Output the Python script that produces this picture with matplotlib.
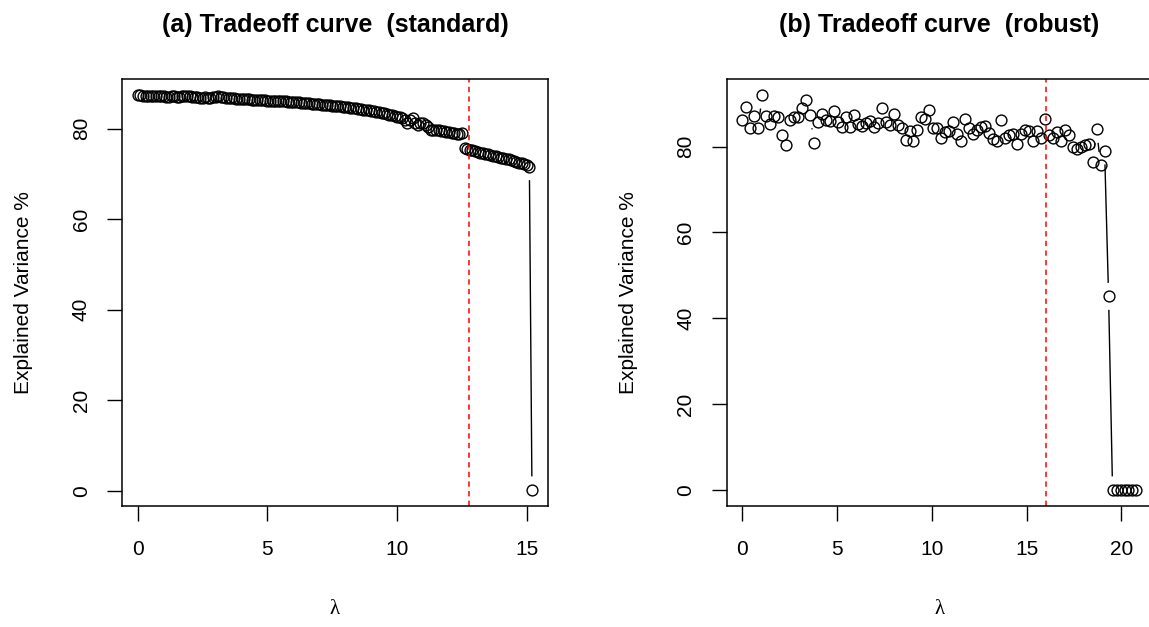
import numpy as np
import matplotlib
matplotlib.use("Agg")
import matplotlib.pyplot as plt
from matplotlib.collections import LineCollection

OUT_FILE = "out.png"

# Curva (a) - padrao
lambda_std = [0.0, 0.1, 0.2, 0.3, 0.4, 0.5, 0.6, 0.7, 0.8, 0.9, 1.0,
              1.1, 1.2, 1.3, 1.4, 1.5, 1.6, 1.7, 1.8, 1.9, 2.0,
              2.1, 2.2, 2.3, 2.4, 2.5, 2.6, 2.7, 2.8, 2.9, 3.0,
              3.1, 3.2, 3.3, 3.4, 3.5, 3.6, 3.7, 3.8, 3.9, 4.0,
              4.1, 4.2, 4.3, 4.4, 4.5, 4.6, 4.7, 4.8, 4.9, 5.0,
              5.1, 5.2, 5.3, 5.4, 5.5, 5.6, 5.7, 5.8, 5.9, 6.0,
              6.1, 6.2, 6.3, 6.4, 6.5, 6.6, 6.7, 6.8, 6.9, 7.0,
              7.1, 7.2, 7.3, 7.4, 7.5, 7.6, 7.7, 7.8, 7.9, 8.0,
              8.1, 8.2, 8.3, 8.4, 8.5, 8.6, 8.7, 8.8, 8.9, 9.0,
              9.1, 9.2, 9.3, 9.4, 9.5, 9.6, 9.7, 9.8, 9.9, 10.0,
              10.1, 10.2, 10.3, 10.4, 10.5, 10.6, 10.7, 10.8, 10.9, 11.0,
              11.1, 11.2, 11.3, 11.4, 11.5, 11.6, 11.7, 11.8, 11.9, 12.0,
              12.1, 12.2, 12.3, 12.4, 12.5, 12.6, 12.7, 12.8, 12.9, 13.0,
              13.1, 13.2, 13.3, 13.4, 13.5, 13.6, 13.7, 13.8, 13.9, 14.0,
              14.1, 14.2, 14.3, 14.4, 14.5, 14.6, 14.7, 14.8, 14.9, 15.0,
              15.1, 15.2]
var_std = [87.4, 87.4, 87.3, 87.3, 87.3, 87.2, 87.2, 87.2, 87.1, 87.1, 87.1,
           87.0, 87.0, 87.1, 87.2, 87.0, 87.0, 87.1, 87.2, 87.3, 87.1,
           87.0, 86.9, 86.9, 86.8, 86.8, 86.9, 86.8, 86.8, 86.9, 87.0,
           87.2, 87.0, 86.9, 86.8, 86.8, 86.7, 86.7, 86.6, 86.6, 86.6,
           86.5, 86.5, 86.5, 86.4, 86.4, 86.4, 86.3, 86.3, 86.3, 86.2,
           86.2, 86.2, 86.1, 86.1, 86.0, 86.0, 86.0, 85.9, 85.9, 85.8,
           85.8, 85.8, 85.7, 85.7, 85.6, 85.6, 85.5, 85.5, 85.4, 85.4,
           85.3, 85.3, 85.2, 85.2, 85.1, 85.0, 85.0, 84.9, 84.8, 84.8,
           84.7, 84.6, 84.5, 84.5, 84.4, 84.3, 84.2, 84.1, 84.0, 83.9,
           83.8, 83.7, 83.6, 83.5, 83.4, 83.3, 83.1, 82.9, 82.7, 82.5,
           82.6, 82.4, 81.9, 81.3, 81.8, 82.4, 81.2, 80.9, 81.3, 81.3,
           80.9, 80.4, 79.8, 79.8, 79.7, 79.6, 79.5, 79.4, 79.3, 79.2,
           79.1, 79.0, 78.9, 78.9, 79.0, 75.7, 75.5, 75.3, 75.2, 75.0,
           74.9, 74.7, 74.6, 74.4, 74.3, 74.2, 74.0, 73.9, 73.8, 73.6,
           73.5, 73.3, 73.2, 73.0, 72.9, 72.7, 72.5, 72.3, 72.1, 71.9,
           71.6, 0.2]
cut_std = 12.78

# Curva (b) - robusta
lambda_rob = [0.0, 0.21, 0.42, 0.63, 0.84, 1.05, 1.26, 1.47, 1.68, 1.89,
              2.1, 2.31, 2.52, 2.73, 2.94, 3.15, 3.36, 3.57, 3.78, 3.99,
              4.2, 4.41, 4.62, 4.83, 5.04, 5.25, 5.46, 5.67, 5.88, 6.09,
              6.3, 6.51, 6.72, 6.93, 7.14, 7.35, 7.56, 7.77, 7.98, 8.19,
              8.4, 8.61, 8.82, 9.03, 9.24, 9.45, 9.66, 9.87, 10.08, 10.29,
              10.5, 10.71, 10.92, 11.13, 11.34, 11.55, 11.76, 11.97, 12.18, 12.39,
              12.6, 12.81, 13.02, 13.23, 13.44, 13.65, 13.86, 14.07, 14.28, 14.49,
              14.7, 14.91, 15.12, 15.33, 15.54, 15.75, 15.96, 16.17, 16.38, 16.59,
              16.8, 17.01, 17.22, 17.43, 17.64, 17.85, 18.06, 18.27, 18.48, 18.69,
              18.9, 19.11, 19.32, 19.53, 19.74, 19.95, 20.16, 20.37, 20.58, 20.79]
var_rob = [86.1, 89.2, 84.4, 87.1, 84.4, 92.0, 87.1, 85.2, 87.1, 86.8,
           82.7, 80.3, 86.1, 86.8, 86.9, 88.9, 90.9, 87.4, 80.9, 85.8,
           87.7, 86.1, 85.9, 88.3, 85.8, 84.6, 86.8, 84.6, 87.4, 85.3,
           84.8, 85.4, 86.0, 84.6, 85.5, 88.9, 85.8, 85.0, 87.5, 85.1,
           84.4, 81.5, 83.6, 81.3, 83.8, 86.8, 86.4, 88.5, 84.3, 84.3,
           82.1, 83.3, 83.6, 85.8, 82.9, 81.3, 86.4, 84.3, 83.0, 83.8,
           84.6, 84.8, 83.2, 81.7, 81.2, 86.1, 81.9, 82.7, 83.0, 80.7,
           83.0, 83.8, 83.6, 81.3, 83.6, 82.1, 86.4, 82.7, 82.1, 83.4,
           81.3, 83.8, 82.7, 79.9, 79.4, 79.9, 80.4, 80.7, 76.5, 84.0,
           75.6, 79.0, 45.1, 0.0, 0.0, 0.0, 0.0, 0.0, 0.0, 0.0]
cut_rob = 16.0

TITLES = ["(a) Tradeoff curve  (standard)", "(b) Tradeoff curve  (robust)"]
YLABEL = "Explained Variance %"
XLABEL = "\u03bb"

plt.rcParams["font.family"] = ["Liberation Sans", "DejaVu Sans"]

GAP_PX = 13.5   # espaco entre linha e ponto (type = "b" do R)


def limits(v):
    # extensao de 4% igual ao R
    lo, hi = min(v), max(v)
    pad = 0.04 * (hi - lo)
    return lo - pad, hi + pad


def lines_with_gaps(ax, x, y):
    # liga os pontos so quando ficam longe o bastante
    pts = ax.transData.transform(np.column_stack([x, y]))
    inv = ax.transData.inverted()
    segs = []
    for i in range(len(pts) - 1):
        p, q = pts[i], pts[i + 1]
        d = np.hypot(*(q - p))
        if d > 2 * GAP_PX:
            u = (q - p) / d
            segs.append(inv.transform([p + u * GAP_PX, q - u * GAP_PX]))
    ax.add_collection(LineCollection(segs, colors="black", linewidths=1.0))


def tradeoff_panel(ax, x, y, cut, title, xticks):
    ax.set_xlim(*limits(x))
    ax.set_ylim(*limits(y))
    lines_with_gaps(ax, x, y)
    ax.plot(x, y, linestyle="none", marker="o", ms=7.8, mfc="none",
            mec="black", mew=1.0)
    ax.axvline(cut, color="red", lw=1.1, linestyle=(0, (3.5, 2.8)))

    ax.set_xticks(xticks)
    ax.set_yticks([0, 20, 40, 60, 80])
    ax.tick_params(axis="both", direction="out", length=10.5, width=1.0,
                   labelsize=15)
    ax.tick_params(axis="x", pad=14)
    ax.tick_params(axis="y", pad=12, labelrotation=90)
    for lab in ax.get_yticklabels():
        lab.set_va("center")
    for sp in ax.spines.values():
        sp.set_linewidth(1.1)

    ax.set_title(title, fontsize=18, fontweight="bold", pad=34)
    ax.set_ylabel(YLABEL, fontsize=15)
    ax.yaxis.set_label_coords(-0.208, 0.5)
    ax.set_xlabel(XLABEL, fontsize=15, family=["Liberation Serif", "DejaVu Serif"])
    ax.xaxis.set_label_coords(0.5, -0.222)


def main():
    fig = plt.figure(figsize=(11.49, 6.27), dpi=100)
    ax1 = fig.add_axes([0.1062, 0.1935, 0.3705, 0.680])
    ax2 = fig.add_axes([0.6323, 0.1935, 0.3705, 0.680])

    tradeoff_panel(ax1, lambda_std, var_std, cut_std, TITLES[0], [0, 5, 10, 15])
    tradeoff_panel(ax2, lambda_rob, var_rob, cut_rob, TITLES[1], [0, 5, 10, 15, 20])

    fig.savefig(OUT_FILE, dpi=100)


if __name__ == "__main__":
    main()
